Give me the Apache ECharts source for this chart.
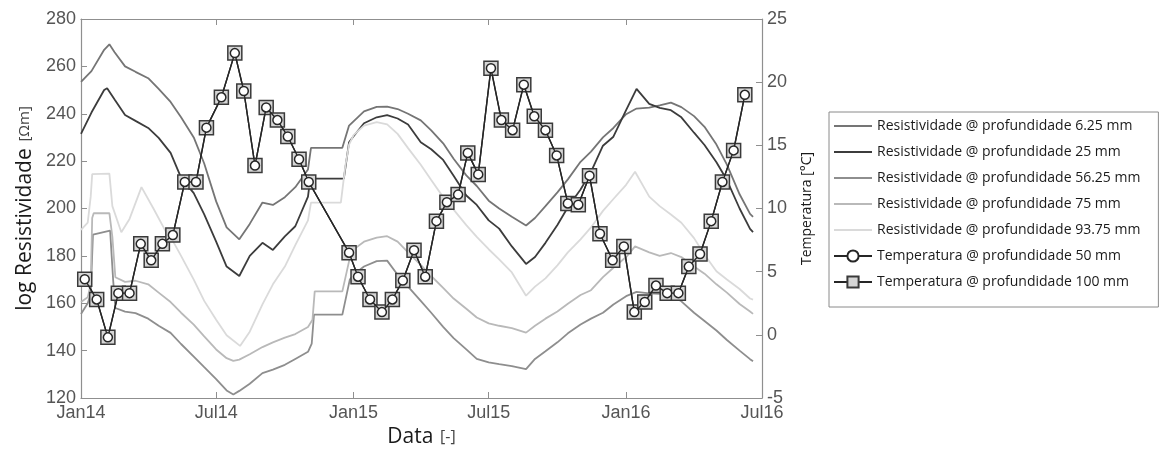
<!DOCTYPE html>
<html><head><meta charset="utf-8">
<script src="https://cdn.jsdelivr.net/npm/echarts@6/dist/echarts.min.js"></script>
<style>html,body{margin:0;padding:0;background:#fff}#c{width:1161px;height:452px}</style>
</head><body><div id="c"></div>
<script>
const tickLabels = ['Jan14','Jul14','Jan15','Jul15','Jan16','Jul16'];
const tickDates = ['2014-01-01','2014-07-01','2015-01-01','2015-07-01','2016-01-01','2016-07-01'];

const res625Dates = ['2014-01-01','2014-01-15','2014-02-01','2014-02-08','2014-02-15','2014-03-01','2014-03-15','2014-04-01','2014-04-15','2014-05-01','2014-05-15','2014-06-01','2014-06-15','2014-07-01','2014-07-15','2014-08-01','2014-08-15','2014-09-01','2014-09-15','2014-10-01','2014-10-15','2014-11-01','2014-11-05','2014-12-17','2014-12-26','2015-01-15','2015-02-01','2015-02-15','2015-03-01','2015-03-15','2015-04-01','2015-04-15','2015-05-01','2015-05-15','2015-06-01','2015-06-15','2015-07-01','2015-07-15','2015-08-01','2015-08-20','2015-09-01','2015-09-15','2015-10-01','2015-10-15','2015-11-01','2015-11-15','2015-12-01','2015-12-15','2016-01-01','2016-01-15','2016-02-01','2016-02-15','2016-03-01','2016-03-15','2016-04-01','2016-04-15','2016-05-01','2016-05-15','2016-06-01','2016-06-15','2016-06-19'];
const res625 = [253.5,258,267,269.3,266,260,257.7,255,250.5,245,238.5,230,219,203,192,187,193.5,202.5,201.5,204.8,209,216.5,225.6,225.6,235,241,242.9,243,242,240,237.2,233,227.5,221,214,209.5,203.3,200,196.5,192.8,196,201,206.8,212.3,219.7,224,230,234,239.8,242.2,242.6,243.5,244.7,242.8,239,234.5,227,218.5,206,197.7,196.5];

const res25Dates = ['2014-01-01','2014-01-15','2014-02-01','2014-02-05','2014-02-15','2014-03-01','2014-03-15','2014-04-01','2014-04-15','2014-05-01','2014-05-15','2014-06-01','2014-06-15','2014-07-01','2014-07-15','2014-08-01','2014-08-15','2014-09-01','2014-09-15','2014-10-01','2014-10-15','2014-11-01','2014-11-04','2014-12-19','2014-12-26','2015-01-01','2015-01-15','2015-02-01','2015-02-15','2015-03-01','2015-03-15','2015-04-01','2015-04-15','2015-05-01','2015-05-15','2015-06-01','2015-06-15','2015-07-01','2015-07-15','2015-08-01','2015-08-20','2015-09-01','2015-09-15','2015-10-01','2015-10-15','2015-11-01','2015-11-15','2015-12-01','2015-12-15','2016-01-01','2016-01-15','2016-02-01','2016-02-15','2016-03-01','2016-03-15','2016-04-01','2016-04-15','2016-05-01','2016-05-15','2016-06-01','2016-06-15','2016-06-19'];
const res25 = [231.5,240.5,250,250.8,246,239.5,237,234,229.8,223.5,213,206.5,197.5,186,175.5,171.5,180,185.5,182.5,188.2,192.5,205,212.6,212.6,228,230.5,236,238.5,239.4,238,235.5,228,225,220.5,213.8,205.5,201.5,195,191.5,184,176.6,179.5,185.5,193,200.5,208,215.5,226.5,230.3,241.5,250.5,244.2,242.5,241.5,238.5,232,226.8,219.5,212,200,191.4,190];

const res5625Dates = ['2014-01-01','2014-01-10','2014-01-14','2014-01-17','2014-02-09','2014-02-13','2014-02-16','2014-03-01','2014-03-15','2014-04-01','2014-04-15','2014-05-01','2014-05-15','2014-06-01','2014-06-15','2014-07-01','2014-07-15','2014-07-24','2014-08-01','2014-08-15','2014-09-01','2014-09-15','2014-10-01','2014-10-15','2014-11-01','2014-11-06','2014-11-09','2014-12-17','2014-12-27','2015-01-01','2015-01-15','2015-02-01','2015-02-15','2015-03-01','2015-03-15','2015-04-01','2015-04-15','2015-05-01','2015-05-15','2015-06-01','2015-06-15','2015-07-01','2015-07-15','2015-08-01','2015-08-20','2015-09-01','2015-09-15','2015-10-01','2015-10-15','2015-11-01','2015-11-15','2015-12-01','2015-12-15','2016-01-01','2016-01-15','2016-02-01','2016-02-15','2016-03-01','2016-03-15','2016-04-01','2016-04-15','2016-05-01','2016-05-15','2016-06-01','2016-06-15','2016-06-19'];
const res5625 = [155.5,160,164,189,190.7,170,158,156.5,155.8,153.5,150.5,147.5,142.8,137.5,133,128,123.2,121.5,123,126,130.5,132,134,136.5,139.5,143,155.2,155.2,170,172,175.5,177.8,178,172,167,161,156,150,145.3,140.5,136.5,135,134.3,133.5,132.2,136.5,139.7,143.5,147.3,151,153.5,156,159.5,163,164.8,164.2,164,163.5,160.8,156,152.5,148.5,144.5,140,136.4,135.5];

const res75Dates = ['2014-01-01','2014-01-10','2014-01-14','2014-01-16','2014-01-18','2014-02-08','2014-02-12','2014-02-16','2014-03-01','2014-03-15','2014-04-01','2014-04-15','2014-05-01','2014-05-15','2014-06-01','2014-06-15','2014-07-01','2014-07-15','2014-07-24','2014-08-01','2014-08-15','2014-09-01','2014-09-15','2014-10-01','2014-10-15','2014-11-01','2014-11-07','2014-11-10','2014-12-17','2014-12-29','2015-01-15','2015-02-01','2015-02-15','2015-03-01','2015-03-15','2015-04-01','2015-04-15','2015-05-01','2015-05-15','2015-06-01','2015-06-15','2015-07-01','2015-07-15','2015-08-01','2015-08-20','2015-09-01','2015-09-15','2015-10-01','2015-10-15','2015-11-01','2015-11-15','2015-12-01','2015-12-15','2016-01-01','2016-01-13','2016-02-01','2016-02-15','2016-03-01','2016-03-15','2016-04-01','2016-04-15','2016-05-01','2016-05-15','2016-06-01','2016-06-15','2016-06-19'];
const res75 = [160.5,162.5,168,196,198,198,188,171,169,169.5,168,164.5,160.5,156,151,146,140.5,136.8,135.7,136.2,138.5,141.5,143.5,145.5,147,150,153,165,165,182,186,187.7,188.3,186,181.5,176.2,171.5,166.5,162,157.7,154,151.5,150.5,149.5,147.6,150.5,153.5,156.5,159.8,163.5,165.5,171,175,179.5,184,181.5,180,181.2,179.5,175.5,172.5,168,164.5,159.7,156.5,155.5];

const res9375Dates = ['2014-01-01','2014-01-10','2014-01-14','2014-01-16','2014-02-08','2014-02-12','2014-02-24','2014-03-07','2014-03-23','2014-04-08','2014-04-25','2014-05-01','2014-05-15','2014-06-01','2014-06-15','2014-07-01','2014-07-15','2014-08-02','2014-08-15','2014-09-01','2014-09-15','2014-10-01','2014-10-15','2014-11-01','2014-11-05','2014-12-15','2014-12-21','2014-12-26','2015-01-01','2015-01-15','2015-02-01','2015-02-15','2015-03-01','2015-03-15','2015-04-01','2015-04-15','2015-05-01','2015-05-15','2015-06-01','2015-06-15','2015-07-01','2015-07-15','2015-08-01','2015-08-20','2015-09-01','2015-09-15','2015-10-01','2015-10-15','2015-11-01','2015-11-15','2015-12-01','2015-12-15','2016-01-01','2016-01-13','2016-02-01','2016-02-15','2016-03-01','2016-03-15','2016-04-01','2016-04-15','2016-05-01','2016-05-15','2016-06-01','2016-06-15','2016-06-19'];
const res9375 = [191,194,205,214.5,214.7,201,190,195.6,209,200,190,188,180,170,161,153,146.5,142,148,159.5,168,175.5,184.5,195,202.5,202.5,218,227,231,235,236.5,235.5,231.5,225.5,218.5,212,204.8,199.5,193,188,182.8,178.5,173,163.2,167,170.5,176,181.5,187,192,199,204,210,215.5,205,201,197.5,194,187.5,180.5,173.5,170,166,162,161.5];

const tempDates = ['2014-01-06','2014-01-22','2014-02-06','2014-02-20','2014-03-07','2014-03-22','2014-04-05','2014-04-20','2014-05-04','2014-05-20','2014-06-04','2014-06-18','2014-07-08','2014-07-26','2014-08-07','2014-08-22','2014-09-06','2014-09-21','2014-10-05','2014-10-20','2014-11-02','2014-12-26','2015-01-07','2015-01-23','2015-02-08','2015-02-22','2015-03-08','2015-03-23','2015-04-07','2015-04-22','2015-05-06','2015-05-21','2015-06-03','2015-06-17','2015-07-04','2015-07-18','2015-08-02','2015-08-17','2015-08-31','2015-09-15','2015-09-30','2015-10-15','2015-10-29','2015-11-13','2015-11-27','2015-12-14','2015-12-29','2016-01-12','2016-01-26','2016-02-10','2016-02-25','2016-03-11','2016-03-25','2016-04-09','2016-04-24','2016-05-09','2016-05-24','2016-06-08'];
const temp50 = [4.4,2.8,-0.2,3.3,3.3,7.2,5.9,7.2,7.9,12.1,12.1,16.4,18.8,22.3,19.3,13.4,18.0,17.0,15.7,13.9,12.1,6.5,4.6,2.8,1.8,2.8,4.3,6.7,4.6,9.0,10.5,11.1,14.4,12.7,21.1,17.0,16.2,19.8,17.3,16.2,14.2,10.4,10.3,12.6,8.0,5.9,7.0,1.8,2.6,3.9,3.3,3.3,5.4,6.4,9.0,12.1,14.6,19.0];
const temp100 = [4.4,2.8,-0.2,3.3,3.3,7.2,5.9,7.2,7.9,12.1,12.1,16.4,18.8,22.3,19.3,13.4,18.0,17.0,15.7,13.9,12.1,6.5,4.6,2.8,1.8,2.8,4.3,6.7,4.6,9.0,10.5,11.1,14.4,12.7,21.1,17.0,16.2,19.8,17.3,16.2,14.2,10.4,10.3,12.6,8.0,5.9,7.0,1.8,2.6,3.9,3.3,3.3,5.4,6.4,9.0,12.1,14.6,19.0];

const names = ['Resistividade @ profundidade 6.25 mm','Resistividade @ profundidade 25 mm','Resistividade @ profundidade 56.25 mm','Resistividade @ profundidade 75 mm','Resistividade @ profundidade 93.75 mm','Temperatura @ profundidade 50 mm','Temperatura @ profundidade 100 mm'];

function ts(s){const p=s.split('-').map(Number);return Date.UTC(p[0],p[1]-1,p[2]);}
function zip(d,v){return d.map((x,i)=>[ts(x),v[i]]);}
const tickTs = tickDates.map(ts);
function fmt(v){let best=0;for(let i=1;i<tickTs.length;i++){if(Math.abs(tickTs[i]-v)<Math.abs(tickTs[best]-v))best=i;}return tickLabels[best];}

const axisGrey = '#8f8f8f';
const labelStyle = {color:'#555', fontSize:18, fontFamily:'Liberation Sans'};
const lineIcon = 'path://M0,0H40V2H0Z';

function resSeries(name,d,v,color,w){
  return {name:name,type:'line',data:zip(d,v),xAxisIndex:0,yAxisIndex:0,symbol:'none',showSymbol:false,
    lineStyle:{color:color,width:w},itemStyle:{color:color},z:2};
}

const legendData = names.map((n,i)=> i<5 ? {name:n,icon:lineIcon} : {name:n});

const chart = echarts.init(document.getElementById('c'),null,{renderer:'canvas'});
chart.setOption({
  animation:false,
  backgroundColor:'#fff',
  grid:{left:81,right:399,top:19,bottom:54,containLabel:false,outerBoundsMode:'none'},
  legend:{
    orient:'vertical',left:829,top:112,
    data:legendData,
    itemWidth:38,itemHeight:14,itemGap:12,
    padding:[7,18,18,4],
    borderColor:'#8a8a8a',borderWidth:1,
    textStyle:{fontFamily:'Open Sans',fontSize:14,color:'#1a1a1a'},
    inactiveColor:'#ccc'
  },
  xAxis:[{
    type:'value',min:ts('2014-01-01'),max:ts('2016-07-01'),position:'bottom',
    axisLine:{show:true,onZero:false,lineStyle:{color:axisGrey,width:1.2}},
    axisTick:{show:true,inside:true,length:6,customValues:tickTs,lineStyle:{color:axisGrey}},
    axisLabel:Object.assign({customValues:tickTs,formatter:fmt,margin:6,hideOverlap:false,showMinLabel:true,showMaxLabel:true},labelStyle),
    splitLine:{show:false},
    name:'{a|Data}  {b|[-]}',nameLocation:'middle',nameGap:28,
    nameTextStyle:{rich:{a:{fontSize:21,fontFamily:'Open Sans',color:'#1a1a1a'},b:{fontSize:16,fontFamily:'Open Sans',color:'#444'}}}
  },{
    type:'value',min:ts('2014-01-01'),max:ts('2016-07-01'),position:'top',
    axisLine:{show:true,onZero:false,lineStyle:{color:axisGrey,width:1.2}},
    axisTick:{show:true,inside:true,length:6,customValues:tickTs,lineStyle:{color:axisGrey}},
    axisLabel:{show:false},splitLine:{show:false}
  }],
  yAxis:[{
    type:'value',min:120,max:280,interval:20,position:'left',
    axisLine:{show:true,onZero:false,lineStyle:{color:axisGrey,width:1.2}},
    axisTick:{show:true,inside:true,length:6,lineStyle:{color:axisGrey}},
    axisLabel:Object.assign({margin:5},labelStyle),
    splitLine:{show:false},
    name:'{a|log Resistividade}  {b|[Ωm]}',nameLocation:'middle',nameGap:42,nameRotate:90,
    nameTextStyle:{rich:{a:{fontSize:21,fontFamily:'Open Sans',color:'#1a1a1a'},b:{fontSize:15,fontFamily:'Open Sans',color:'#444'}}}
  },{
    type:'value',min:-5,max:25,interval:5,position:'right',
    axisLine:{show:true,onZero:false,lineStyle:{color:axisGrey,width:1.2}},
    axisTick:{show:true,inside:true,length:6,lineStyle:{color:axisGrey}},
    axisLabel:Object.assign({margin:5},labelStyle),
    splitLine:{show:false},
    name:'Temperatura [°C]',nameLocation:'middle',nameGap:38,nameRotate:90,
    nameTextStyle:{fontSize:14,fontFamily:'Open Sans',color:'#1a1a1a'}
  }],
  series:[
    resSeries(names[0],res625Dates,res625,'#757575',1.8),
    resSeries(names[1],res25Dates,res25,'#3c3c3c',1.8),
    resSeries(names[2],res5625Dates,res5625,'#8e8e8e',1.8),
    resSeries(names[3],res75Dates,res75,'#b9b9b9',1.8),
    resSeries(names[4],res9375Dates,res9375,'#dadada',1.8),
    {name:names[5],type:'line',xAxisIndex:0,yAxisIndex:1,data:zip(tempDates,temp50),
      symbol:'circle',symbolSize:9,showSymbol:true,
      lineStyle:{color:'#262626',width:1.4},
      itemStyle:{color:'#ffffff',borderColor:'#262626',borderWidth:1.5},z:6},
    {name:names[6],type:'line',xAxisIndex:0,yAxisIndex:1,data:zip(tempDates,temp100),
      symbol:'rect',symbolSize:14,showSymbol:true,
      lineStyle:{color:'#262626',width:1.4},
      itemStyle:{color:'#d6d6d6',borderColor:'#3a3a3a',borderWidth:1.5},z:5}
  ]
});
</script></body></html>
